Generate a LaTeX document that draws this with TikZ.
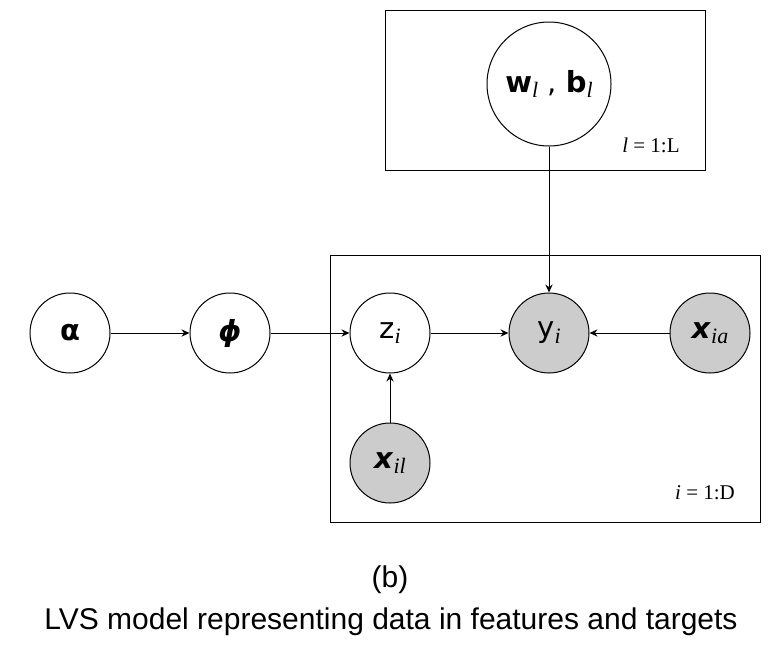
\documentclass[tikz,border=0pt]{standalone}
\usepackage{fontspec}
\setmainfont{Liberation Serif}
\newfontfamily\nodefont{DejaVu Sans}
\newfontfamily\capfont{Liberation Sans}
\usetikzlibrary{arrows.meta}
\definecolor{obsgray}{HTML}{CCCCCC}
\newcommand{\sub}[1]{\raisebox{-0.35ex}{\fontsize{11}{12}\selectfont\rmfamily\itshape #1}}
\begin{document}
\begin{tikzpicture}[x=0.5pt,y=-0.5pt,
	var/.style={draw, circle, line width=0.5pt, minimum size=40pt, inner sep=0pt, fill=white, font=\nodefont\fontsize{14.5}{16}\selectfont},
	obs/.style={var, fill=obsgray},
	platelabel/.style={font=\fontsize{10.5}{12}\selectfont},
	>={Stealth[length=4pt,width=3.6pt]}]
	\useasboundingbox (0,0) rectangle (781,649);

	\draw [line width=0.5pt] (385,10) rectangle (705,170);
	\draw [line width=0.5pt] (330,255) rectangle (760,522);
	\node (labL) [platelabel] at (651,145) {\textit{l} = 1:L};
	\node (labD) [platelabel] at (705,493) {\textit{i} = 1:D};

	\node (wb) [var, minimum size=62pt] at (549,84) {\textbf{w}\sub{l} , \textbf{b}\sub{l}};
	\node (alpha) [var] at (70,333) {\textbf{α}};
	\node (phi) [var] at (230,333) {\textbf{\itshape ϕ}};
	\node (zi) [var] at (390,333) {z\sub{i}};
	\node (yi) [obs] at (549,333) {y\sub{i}};
	\node (xia) [obs] at (710,333) {\textbf{\itshape x}\sub{ia}};
	\node (xil) [obs] at (390,463) {\textbf{\itshape x}\sub{il}};

	\path [->, line width=0.5pt] (alpha) edge (phi);
	\path [->, line width=0.5pt] (phi) edge (zi);
	\path [->, line width=0.5pt] (zi) edge (yi);
	\path [->, line width=0.5pt] (xia) edge (yi);
	\path [->, line width=0.5pt] (xil) edge (zi);
	\path [->, line width=0.5pt] (wb) edge (yi);

	\node (capb) [font=\capfont\fontsize{15}{18}\selectfont] at (390,580) {(b)};
	\node (cap) [font=\capfont\fontsize{15}{18}\selectfont] at (391,622) {LVS model representing data in features and targets};
\end{tikzpicture}
\end{document}
